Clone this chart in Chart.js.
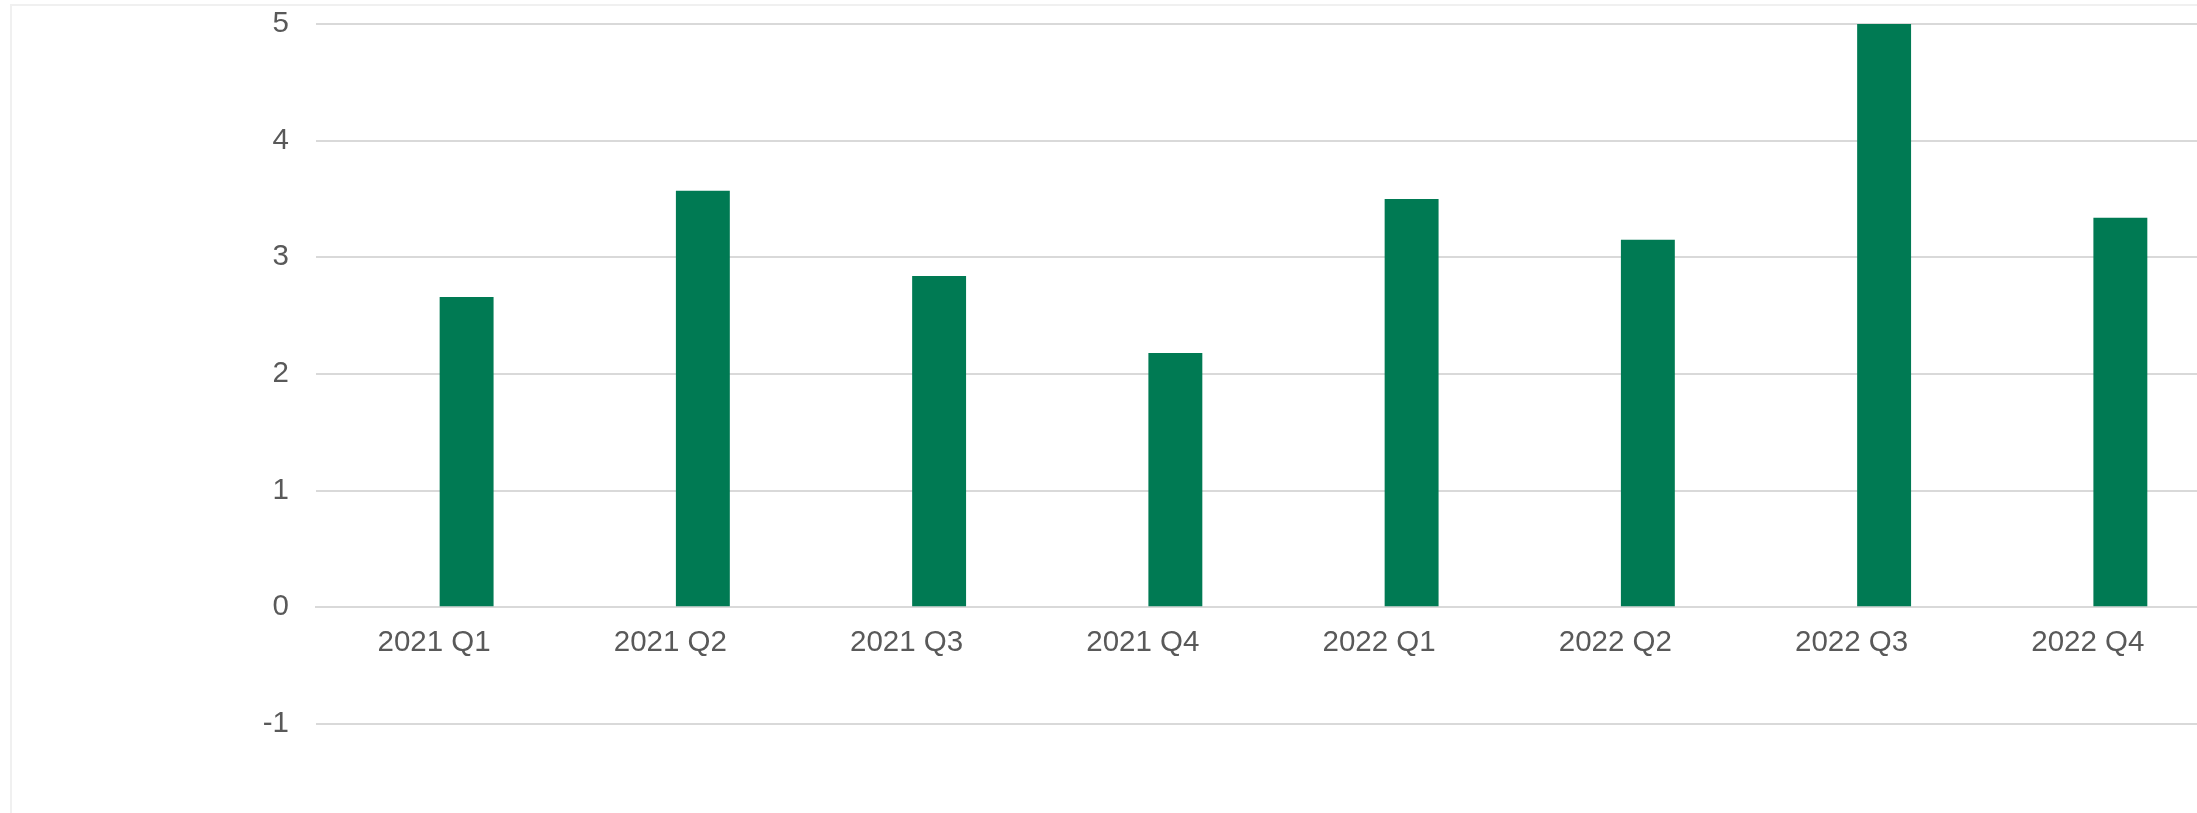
<!DOCTYPE html>
<html>
<head>
<meta charset="utf-8">
<script src="https://cdn.jsdelivr.net/npm/chart.js@4.4.1/dist/chart.umd.min.js"></script>
<style>
  html, body { margin: 0; padding: 0; background: #fff; overflow: hidden; }
  .frame { position: absolute; left: 10px; top: 4px; width: 2400px; height: 1000px;
           border-left: 2px solid #f0f0f0; border-top: 2px solid #f0f0f0; }
  .wrap { position: absolute; left: 0; top: 0; width: 2240px; height: 813px; }
</style>
</head>
<body>
<div class="frame"></div>
<div class="wrap"><canvas id="quarterChart"></canvas></div>
<script>
var categories = ['2021 Q1', '2021 Q2', '2021 Q3', '2021 Q4', '2022 Q1', '2022 Q2', '2022 Q3', '2022 Q4']
// first series is empty in the source chart, it only shifts the bars right
var emptySeries = [null, null, null, null, null, null, null, null]
var values = [2.66, 3.57, 2.84, 2.18, 3.50, 3.15, 5.00, 3.34]
var yTicks = [-1, 0, 1, 2, 3, 4, 5]

var gridColor = '#d9d9d9'
var textColor = '#595959'
var font = { family: '"Liberation Sans", Arial, sans-serif', size: 29.5 }

var context = document.getElementById('quarterChart').getContext('2d')
var chart = new Chart(context, {
  type: 'bar',
  data: {
    labels: categories,
    datasets: [
      { label: 'a', data: emptySeries, backgroundColor: '#007a53' },
      { label: 'b', data: values, backgroundColor: '#007a53', borderWidth: 0 }
    ]
  },
  options: {
    responsive: true,
    maintainAspectRatio: false,
    animation: false,
    categoryPercentage: 0.55,
    barPercentage: 0.83,
    layout: { padding: { left: 236, right: 34, top: 24, bottom: 89 } },
    plugins: { legend: { display: false }, tooltip: { enabled: false } },
    scales: {
      x: {
        position: { y: 0 },
        grid: { display: false, drawTicks: false },
        border: { display: true, color: gridColor, width: 2 },
        ticks: { color: textColor, font: font, padding: 18, maxRotation: 0 },
        afterFit: function(s) { s.height = 59 }
      },
      y: {
        min: yTicks[0],
        max: yTicks[yTicks.length - 1],
        afterBuildTicks: function(s) { s.ticks = yTicks.map(function(v) { return { value: v } }) },
        grid: { color: gridColor, lineWidth: 2, drawTicks: false },
        border: { display: false },
        ticks: { color: textColor, font: font, padding: 27 },
        afterFit: function(s) { s.width = 80; s.paddingTop = 0; s.paddingBottom = 0 }
      }
    }
  }
})
</script>
</body>
</html>
